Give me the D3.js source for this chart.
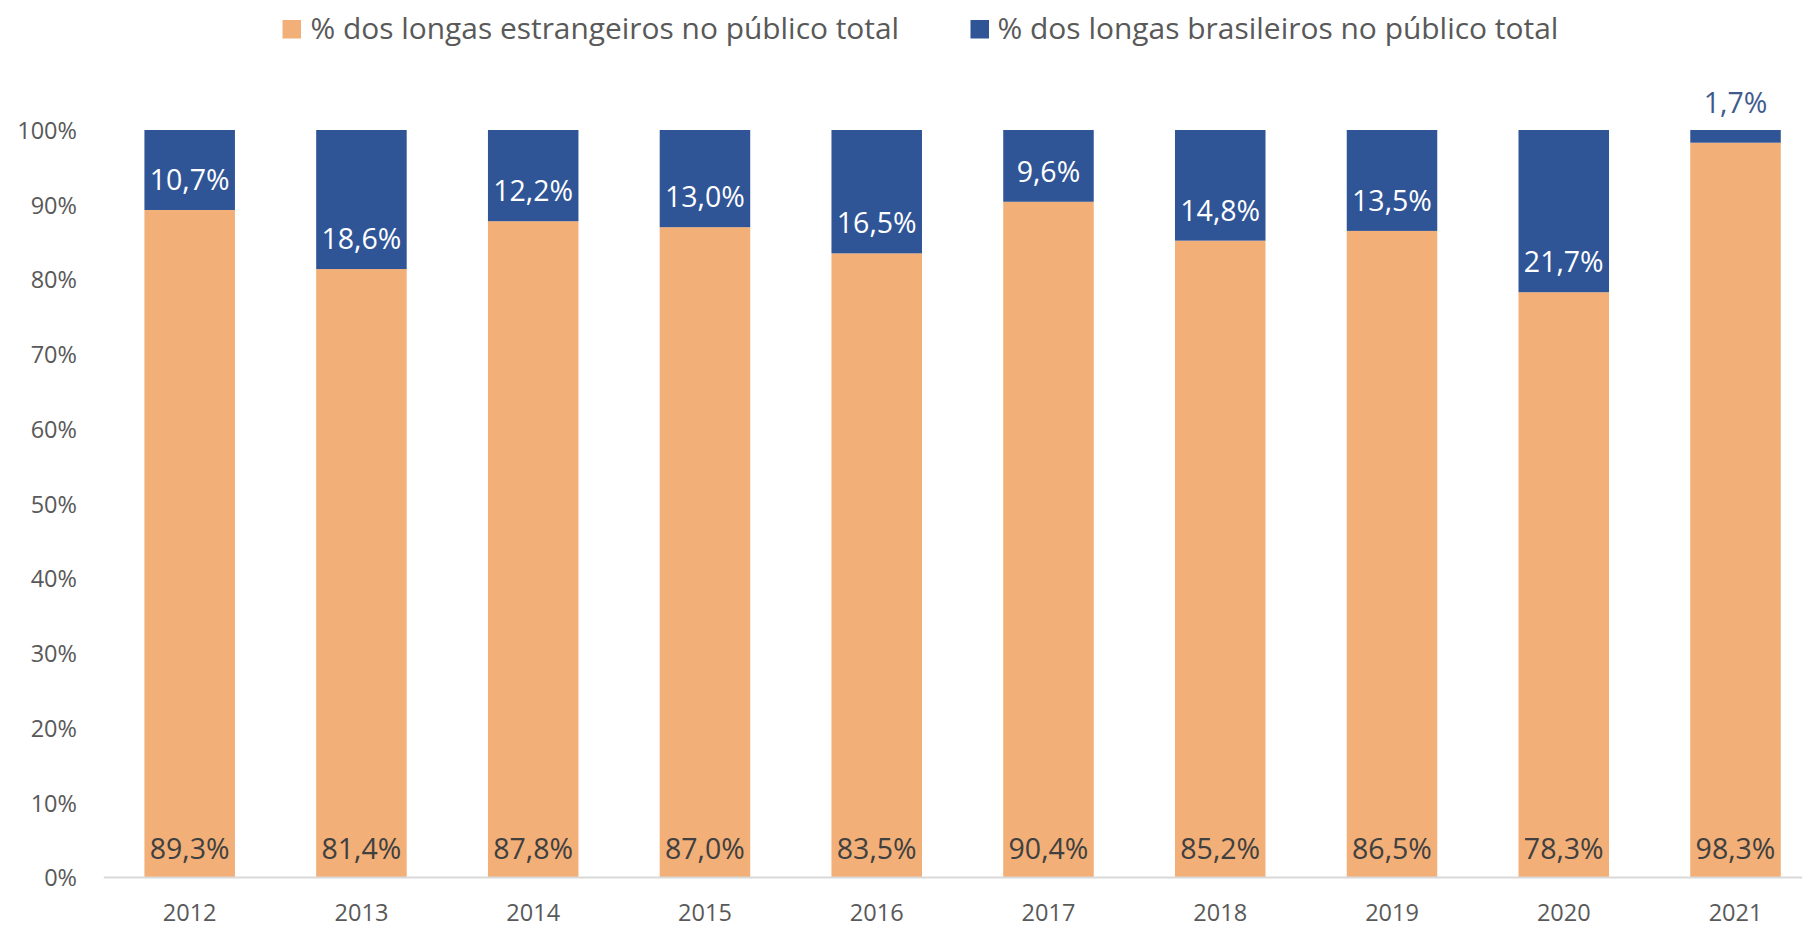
<!DOCTYPE html>
<html><head><meta charset="utf-8">
<script src="https://cdn.jsdelivr.net/npm/d3@7"></script>
<style>
html,body{margin:0;padding:0;background:#fff;}
svg{display:block;}
svg text{font-family:"Open Sans","Noto Sans",sans-serif;}
</style></head>
<body><svg id="c" width="1802" height="928"></svg>
<script>
const years = ["2012","2013","2014","2015","2016","2017","2018","2019","2020","2021"];
const foreignShare = [89.3,81.4,87.8,87.0,83.5,90.4,85.2,86.5,78.3,98.3];
const brazilShare  = [10.7,18.6,12.2,13.0,16.5,9.6,14.8,13.5,21.7,1.7];
const seriesNames = ["% dos longas estrangeiros no público total","% dos longas brasileiros no público total"];
const yTicks = [0,10,20,30,40,50,60,70,80,90,100];

const colors = {foreign:"#f2af77", brazil:"#2f5597"};
const svg = d3.select("#c");
const loc = d3.formatLocale({decimal:",", thousands:".", grouping:[3], currency:["R$",""]});
const fmt = loc.format(".1f");

const x = d3.scaleBand().domain(years).range([103.8,1821.4]).paddingInner(0.473).paddingOuter(0.2365);
const y = d3.scaleLinear().domain([0,100]).range([877.5,130]);

function fit(sel, target){
  const w = sel.node().getComputedTextLength();
  const fs = parseFloat(sel.attr("font-size"));
  sel.attr("font-size", fs*target/w);
}

const axisFs = 23.5;
// y axis labels
const yAxis = d3.axisLeft(y).tickValues(yTicks).tickFormat(d=>d+"%").tickSize(0).tickPadding(0);
const yg = svg.append("g").attr("transform","translate(77,0)").call(yAxis)
  .attr("font-family",null).attr("font-size",null);
yg.select(".domain").remove();
yg.selectAll("text").attr("fill","#595959").attr("font-size",axisFs).attr("dy","0.36em");

// bars
const rows = years.map((yr,i)=>({yr, f:foreignShare[i], b:brazilShare[i]}));
svg.append("g").selectAll("rect").data(rows).join("rect")
  .attr("x",d=>x(d.yr)).attr("width",x.bandwidth())
  .attr("y",d=>y(d.f)).attr("height",d=>y(0)-y(d.f))
  .attr("fill",colors.foreign);
svg.append("g").selectAll("rect").data(rows).join("rect")
  .attr("x",d=>x(d.yr)).attr("width",x.bandwidth())
  .attr("y",d=>y(d.f+d.b)).attr("height",d=>y(d.f)-y(d.f+d.b))
  .attr("fill",colors.brazil);

// x axis
const xAxis = d3.axisBottom(x).tickSize(0).tickPadding(0);
const xg = svg.append("g").attr("transform",`translate(0,${y(0)})`).call(xAxis)
  .attr("font-family",null).attr("font-size",null);
xg.select(".domain").attr("stroke","#d9d9d9").attr("stroke-width",2).attr("d","M103.8,0H1802");
xg.selectAll("text").attr("fill","#595959").attr("font-size",axisFs).attr("dy",0).attr("y",43.5);

// data labels
const lblFs = 28.5;
svg.append("g").selectAll("text").data(rows).join("text")
  .attr("x",d=>x(d.yr)+x.bandwidth()/2).attr("y",y(0)-19)
  .attr("text-anchor","middle").attr("fill","#404040").attr("font-size",lblFs)
  .text(d=>fmt(d.f)+"%");

svg.append("g").selectAll("text").data(rows).join("text")
  .attr("x",d=>x(d.yr)+x.bandwidth()/2)
  .attr("y",d=> d.b < 5 ? y(d.f+d.b)-17 : y(d.f)-20)
  .attr("text-anchor","middle")
  .attr("fill",d=> d.b < 5 ? "#3f5b8e" : "#ffffff")
  .attr("font-size",lblFs)
  .text(d=>fmt(d.b)+"%");

// legend
const leg = [
  {name:seriesNames[0], color:colors.foreign, sx:282.5, tx:310.5, w:589},
  {name:seriesNames[1], color:colors.brazil, sx:970.5, tx:997.5, w:561}
];
leg.forEach(l=>{
  svg.append("rect").attr("x",l.sx).attr("y",20).attr("width",18.5).attr("height",18.5).attr("fill",l.color);
  const t = svg.append("text").attr("x",l.tx).attr("y",39).attr("fill","#595959").attr("font-size",28).text(l.name);
  fit(t, l.w);
});
</script></body></html>
